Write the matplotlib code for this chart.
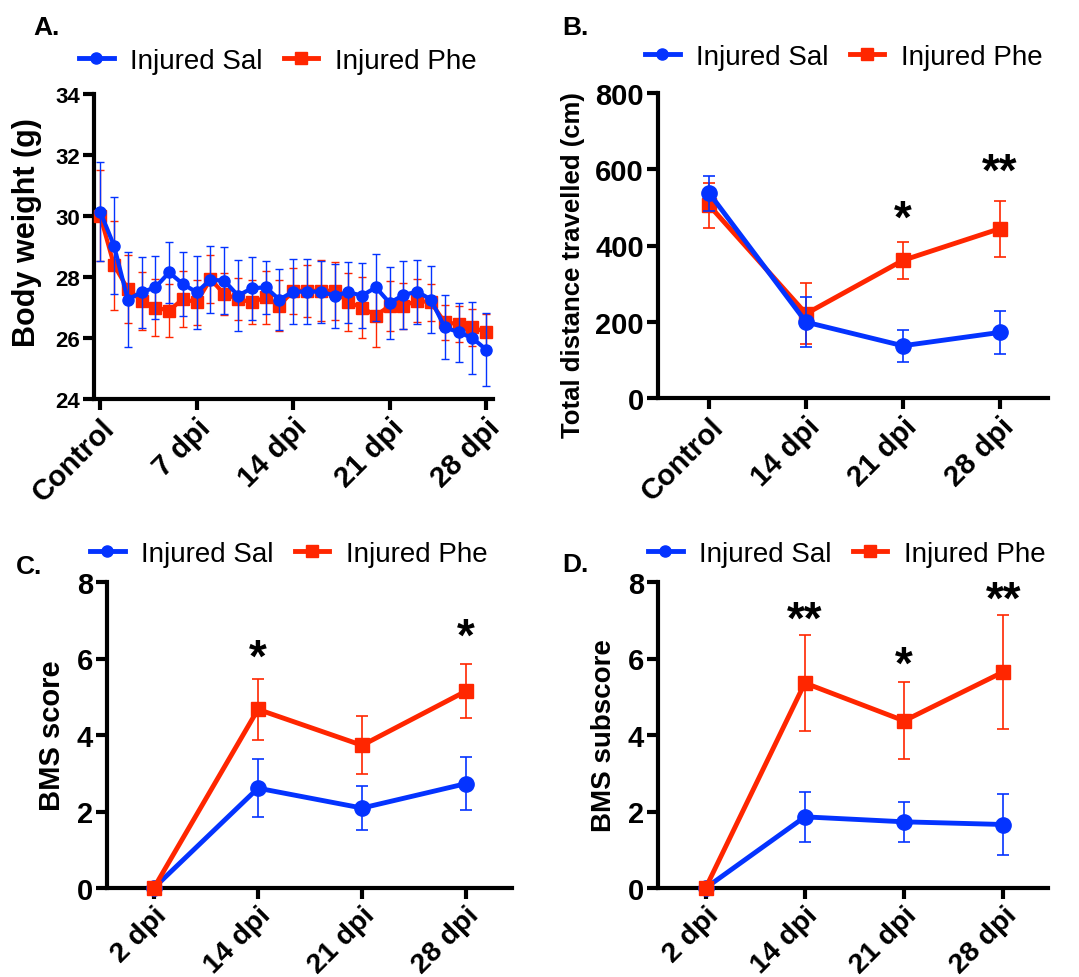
import numpy as np
from matplotlib import pyplot as plt
from matplotlib.lines import Line2D

plt.rcParams['font.family'] = ['Liberation Sans', 'DejaVu Sans']

BLUE = '#0433FF'
RED = '#FF2600'

# panel A: body weight, one point per day
days = np.arange(0, 29)
weight_sal = [30.14, 29.03, 27.26, 27.5, 27.66, 28.15, 27.77, 27.5, 27.91, 27.88,
              27.39, 27.63, 27.66, 27.26, 27.52, 27.52, 27.52, 27.39, 27.5, 27.39,
              27.66, 27.15, 27.41, 27.52, 27.26, 26.35, 26.19, 26.0, 25.62]
weight_sal_err = [1.62, 1.58, 1.57, 1.17, 1.03, 0.99, 1.06, 1.2, 1.1, 1.1,
                  1.17, 1.03, 0.88, 1.0, 1.07, 1.07, 1.02, 1.05, 1.0, 1.06,
                  1.1, 1.17, 1.1, 1.05, 1.1, 1.05, 0.97, 1.18, 1.2]
weight_phe = [30.01, 28.39, 27.61, 27.22, 27.0, 26.9, 27.28, 27.17, 27.93, 27.44,
              27.28, 27.17, 27.33, 27.06, 27.55, 27.55, 27.55, 27.55, 27.17, 27.0,
              26.73, 27.06, 27.06, 27.22, 27.17, 26.51, 26.46, 26.35, 26.19]
weight_phe_err = [1.5, 1.46, 1.12, 0.95, 0.95, 0.87, 0.92, 0.73, 0.78, 0.7,
                  0.7, 0.72, 0.87, 0.83, 0.75, 0.85, 1.0, 0.95, 0.95, 1.0,
                  1.02, 0.82, 0.75, 0.7, 0.6, 0.57, 0.6, 0.6, 0.6]
weight_ticks = [0, 7, 14, 21, 28]
weight_ticklabels = ['Control', '7 dpi', '14 dpi', '21 dpi', '28 dpi']

# panel B: open field
dist_labels = ['Control', '14 dpi', '21 dpi', '28 dpi']
dist_sal = [537, 199, 137, 172]
dist_sal_err = [46, 66, 42, 56]
dist_phe = [505, 221, 361, 444]
dist_phe_err = [60, 80, 48, 73]
dist_stars = ['', '', '*', '**']
dist_star_y = [0, 0, 468, 590]

# panel C: BMS score
bms_labels = ['2 dpi', '14 dpi', '21 dpi', '28 dpi']
bms_sal = [0, 2.61, 2.09, 2.73]
bms_sal_err = [0, 0.76, 0.58, 0.7]
bms_phe = [0, 4.67, 3.73, 5.15]
bms_phe_err = [0, 0.79, 0.76, 0.7]
bms_stars = ['', '*', '', '*']
bms_star_y = [0, 6.0, 0, 6.55]

# panel D: BMS subscore
sub_sal = [0, 1.86, 1.73, 1.66]
sub_sal_err = [0, 0.66, 0.52, 0.8]
sub_phe = [0, 5.36, 4.37, 5.65]
sub_phe_err = [0, 1.26, 1.01, 1.49]
sub_stars = ['', '**', '*', '**']
sub_star_y = [0, 7.0, 5.8, 7.5]

fig = plt.figure(figsize=(10.79, 9.78), dpi=100)
W, H = 1079, 978


def make_ax(l, r, t, b):
    return fig.add_axes([l / W, 1 - b / H, (r - l) / W, (b - t) / H])


def style(ax, ytick_size, xtick_size):
    for s in ['top', 'right']:
        ax.spines[s].set_visible(False)
    for s in ['left', 'bottom']:
        ax.spines[s].set_linewidth(3)
    ax.tick_params(width=3, length=8, direction='out')
    ax.tick_params(axis='y', labelsize=ytick_size, pad=2)
    ax.tick_params(axis='x', labelsize=xtick_size, pad=2)
    for lab in ax.get_yticklabels() + ax.get_xticklabels():
        lab.set_fontweight('bold')
    for lab in ax.get_xticklabels():
        lab.set_rotation(45)
        lab.set_ha('right')
        lab.set_rotation_mode('anchor')


def series(ax, x, sal, sal_err, phe, phe_err, ms_c, ms_s, lw, elw, cap, red_on_top=False):
    zr, zb = (5, 4) if red_on_top else (3, 4)
    ax.errorbar(x, phe, yerr=phe_err, color=RED, marker='s', ms=ms_s, lw=lw,
                elinewidth=elw, capsize=cap, capthick=elw, clip_on=False, zorder=zr)
    ax.errorbar(x, sal, yerr=sal_err, color=BLUE, marker='o', ms=ms_c, lw=lw,
                elinewidth=elw, capsize=cap, capthick=elw, clip_on=False, zorder=zb)


def legend(ax, x, y):
    h = [Line2D([], [], color=BLUE, marker='o', ms=8, lw=3.5),
         Line2D([], [], color=RED, marker='s', ms=8, lw=3.5)]
    ax.legend(h, ['Injured Sal', 'Injured Phe'], loc='center left',
              bbox_to_anchor=(x / W, 1 - y / H), bbox_transform=fig.transFigure,
              ncol=2, frameon=False, fontsize=20, handlelength=1.25,
              handletextpad=0.6, columnspacing=0.75, borderpad=0, borderaxespad=0)


def stars(ax, x, labels, ys):
    for xi, s, yy in zip(x, labels, ys):
        if s:
            ax.text(xi, yy, s, ha='center', va='center', fontsize=33, fontweight='bold')


# A
axA = make_ax(94, 493, 95, 400)
series(axA, days, weight_sal, weight_sal_err, weight_phe, weight_phe_err, 8, 8, 3, 1, 3)
axA.set_xlim(-0.45, 28.5)
axA.set_ylim(24, 34)
axA.set_yticks([24, 26, 28, 30, 32, 34])
axA.set_xticks(weight_ticks)
axA.set_xticklabels(weight_ticklabels)
axA.set_ylabel('Body weight (g)', fontsize=22, fontweight='bold')
axA.yaxis.set_label_coords(-52 / 399, 0.55)
style(axA, 16, 21)
legend(axA, 79, 62)
fig.text(33 / W, 1 - 28 / H, 'A.', fontsize=19, fontweight='bold', va='center')

# B
x4 = np.arange(4)
axB = make_ax(658, 1048, 94, 399)
series(axB, x4, dist_sal, dist_sal_err, dist_phe, dist_phe_err, 11, 10, 3.5, 1.2, 4.5)
axB.set_xlim(-0.53, 3.5)
axB.set_ylim(0, 800)
axB.set_yticks([0, 200, 400, 600, 800])
axB.set_xticks(x4)
axB.set_xticklabels(dist_labels)
axB.set_ylabel('Total distance travelled (cm)', fontsize=18.5, fontweight='bold')
axB.yaxis.set_label_coords(-73 / 390, 0.44)
style(axB, 21, 21)
stars(axB, x4, dist_stars, dist_star_y)
legend(axB, 645, 58)
fig.text(562 / W, 1 - 28 / H, 'B.', fontsize=19, fontweight='bold', va='center')

# C
axC = make_ax(107, 512, 583, 889)
series(axC, x4, bms_sal, bms_sal_err, bms_phe, bms_phe_err, 11, 10, 3.5, 1.2, 4.5,
       red_on_top=True)
axC.set_xlim(-0.45, 3.44)
axC.set_ylim(0, 8)
axC.set_yticks([0, 2, 4, 6, 8])
axC.set_xticks(x4)
axC.set_xticklabels(bms_labels)
axC.set_ylabel('BMS score', fontsize=21, fontweight='bold', labelpad=8)
style(axC, 21, 20.5)
stars(axC, x4, bms_stars, bms_star_y)
legend(axC, 90, 555)
fig.text(16 / W, 1 - 567 / H, 'C.', fontsize=19, fontweight='bold', va='center')

# D
axD = make_ax(658, 1048, 583, 889)
series(axD, x4, sub_sal, sub_sal_err, sub_phe, sub_phe_err, 11, 10, 3.5, 1.2, 4.5,
       red_on_top=True)
axD.set_xlim(-0.48, 3.45)
axD.set_ylim(0, 8)
axD.set_yticks([0, 2, 4, 6, 8])
axD.set_xticks(x4)
axD.set_xticklabels(bms_labels)
axD.set_ylabel('BMS subscore', fontsize=20, fontweight='bold', labelpad=8)
style(axD, 21, 20.5)
stars(axD, x4, sub_stars, sub_star_y)
legend(axD, 648, 555)
fig.text(562 / W, 1 - 565 / H, 'D.', fontsize=19, fontweight='bold', va='center')

fig.savefig('out.png', dpi=100)
